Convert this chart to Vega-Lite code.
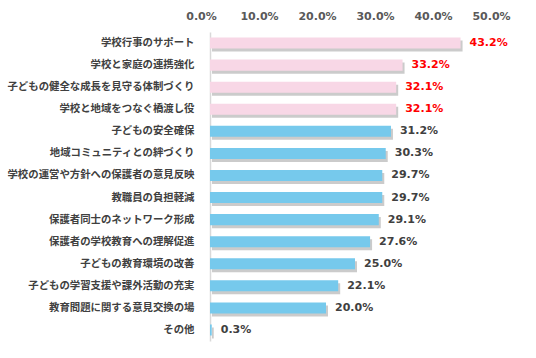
{
  "$schema": "https://vega.github.io/schema/vega-lite/v6.json",
  "width": 290,
  "height": 309,
  "autosize": {"type": "none"},
  "padding": {"left": 210, "top": 32, "right": 36, "bottom": 17},
  "background": "white",
  "config": {"view": {"stroke": null}, "font": "Noto Sans CJK JP"},
  "data": {"values": [
    {"item": "学校行事のサポート", "p": 0.432, "group": "top", "order": 1},
    {"item": "学校と家庭の連携強化", "p": 0.332, "group": "top", "order": 2},
    {"item": "子どもの健全な成長を見守る体制づくり", "p": 0.321, "group": "top", "order": 3},
    {"item": "学校と地域をつなぐ橋渡し役", "p": 0.321, "group": "top", "order": 4},
    {"item": "子どもの安全確保", "p": 0.312, "group": "other", "order": 5},
    {"item": "地域コミュニティとの絆づくり", "p": 0.303, "group": "other", "order": 6},
    {"item": "学校の運営や方針への保護者の意見反映", "p": 0.297, "group": "other", "order": 7},
    {"item": "教職員の負担軽減", "p": 0.297, "group": "other", "order": 8},
    {"item": "保護者同士のネットワーク形成", "p": 0.291, "group": "other", "order": 9},
    {"item": "保護者の学校教育への理解促進", "p": 0.276, "group": "other", "order": 10},
    {"item": "子どもの教育環境の改善", "p": 0.25, "group": "other", "order": 11},
    {"item": "子どもの学習支援や課外活動の充実", "p": 0.221, "group": "other", "order": 12},
    {"item": "教育問題に関する意見交換の場", "p": 0.2, "group": "other", "order": 13},
    {"item": "その他", "p": 0.003, "group": "other", "order": 14}
  ]},
  "encoding": {
    "y": {
      "field": "item", "type": "nominal",
      "sort": {"field": "order", "order": "ascending"},
      "scale": {"paddingInner": 0.5, "paddingOuter": 0.25},
      "axis": {
        "title": null, "ticks": false, "domain": true, "domainColor": "#d9d9d9", "domainWidth": 1.5,
        "labelFontSize": 10.4, "labelColor": "#404040", "labelFontWeight": "bold",
        "labelPadding": 16, "labelLimit": 220
      }
    },
    "x": {
      "field": "p", "type": "quantitative",
      "scale": {"domain": [0, 0.5], "nice": false},
      "axis": {
        "orient": "top", "title": null, "format": ".1%", "values": [0, 0.1, 0.2, 0.3, 0.4, 0.5],
        "ticks": false, "domain": false, "grid": false, "labelOverlap": false, "labelFlush": false,
        "labelFontSize": 11, "labelColor": "#595959", "labelFontWeight": "bold",
        "labelPadding": 11, "labelOffset": -9, "labelFont": "DejaVu Sans"
      }
    }
  },
  "layer": [
    {
      "mark": {"type": "bar", "color": "#8c8c8c", "opacity": 0.45, "xOffset": 2, "yOffset": 3},
      "encoding": {}
    },
    {
      "mark": {"type": "bar"},
      "encoding": {
        "color": {
          "field": "group", "type": "nominal",
          "scale": {"domain": ["top", "other"], "range": ["#f8d7e6", "#76c9ec"]},
          "legend": null
        }
      }
    },
    {
      "mark": {"type": "text", "align": "left", "dx": 9, "fontSize": 11, "fontWeight": "bold", "font": "DejaVu Sans"},
      "encoding": {
        "text": {"field": "p", "type": "quantitative", "format": ".1%"},
        "color": {
          "field": "group", "type": "nominal",
          "scale": {"domain": ["top", "other"], "range": ["#ff0000", "#404040"]},
          "legend": null
        }
      }
    }
  ],
  "resolve": {"scale": {"color": "independent"}}
}
